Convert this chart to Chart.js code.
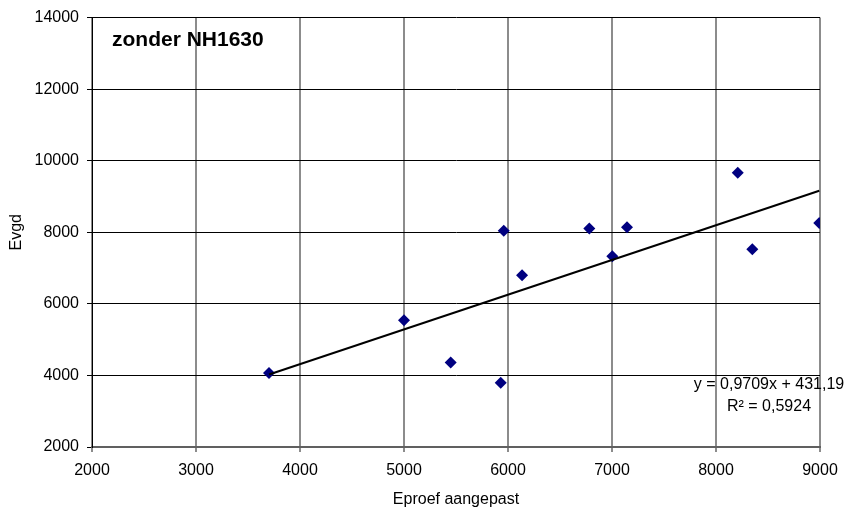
<!DOCTYPE html>
<html>
<head>
<meta charset="utf-8">
<script src="https://cdn.jsdelivr.net/npm/chart.js@4/dist/chart.umd.min.js"></script>
<style>
  html, body { margin: 0; padding: 0; background: #fff; }
  #wrap { width: 848px; height: 509px; }
</style>
</head>
<body>
<div id="wrap"><canvas id="c" width="848" height="509"></canvas></div>
<script>
// Measured values: Eproef aangepast (x) against Evgd (y)
const eproef = [3702, 5000, 5449, 5930, 5959, 6135, 6782, 7003, 7144, 8209, 8349, 8993];
const evgd   = [4065, 5544, 4364, 3795, 8042, 6800, 8103, 7330, 8140, 9666, 7526, 8260];

// Linear trendline coefficients and fit quality
const slope = 0.9709;
const intercept = 431.19;
const rSquared = 0.5924;

// Axis ranges and tick steps
const xTicks = [2000, 3000, 4000, 5000, 6000, 7000, 8000, 9000];
const yTicks = [2000, 4000, 6000, 8000, 10000, 12000, 14000];

const chartTitle = 'zonder NH1630';
const xTitle = 'Eproef aangepast';
const yTitle = 'Evgd';

const FONT = "'Liberation Sans', Arial, sans-serif";

const points = eproef.map((x, i) => ({ x: x, y: evgd[i] }));
const xMin = Math.min(...eproef), xMax = Math.max(...eproef);
const trend = [
  { x: xMin, y: slope * xMin + intercept },
  { x: xMax, y: slope * xMax + intercept }
];

const fmt = (v, d) => v.toFixed(d).replace('.', ',');

// Chart heading inside the plot and the trendline equation box
const annotations = {
  id: 'annotations',
  afterDraw(chart) {
    const ctx = chart.ctx;
    const a = chart.chartArea;
    ctx.save();
    ctx.fillStyle = '#000';
    ctx.font = 'bold 21px ' + FONT;
    ctx.textAlign = 'left';
    ctx.textBaseline = 'alphabetic';
    ctx.fillText(chartTitle, a.left + 20, a.top + 28);

    ctx.font = '16px ' + FONT;
    ctx.textAlign = 'center';
    ctx.textBaseline = 'middle';
    const cx = a.right - 51;
    ctx.fillText('y = ' + fmt(slope, 4) + 'x + ' + fmt(intercept, 2), cx, a.bottom - 62);
    ctx.fillText('R\u00B2 = ' + fmt(rSquared, 4), cx, a.bottom - 40);
    ctx.restore();
  }
};

new Chart(document.getElementById('c'), {
  type: 'scatter',
  data: {
    datasets: [
      {
        label: 'trend',
        type: 'line',
        data: trend,
        borderColor: '#000',
        borderWidth: 2,
        pointRadius: 0,
        fill: false,
        order: 0
      },
      {
        label: yTitle,
        data: points,
        pointStyle: 'rectRot',
        pointRadius: 6,
        pointHoverRadius: 6,
        backgroundColor: '#000080',
        borderColor: '#000080',
        borderWidth: 0,
        order: 1
      }
    ]
  },
  options: {
    responsive: false,
    animation: false,
    devicePixelRatio: 1,
    layout: { padding: { top: 17, right: 28, left: 0, bottom: 0 } },
    plugins: {
      legend: { display: false },
      tooltip: { enabled: false }
    },
    scales: {
      x: {
        type: 'linear',
        min: xTicks[0],
        max: xTicks[xTicks.length - 1],
        afterBuildTicks(s) { s.ticks = xTicks.map(v => ({ value: v })); },
        afterFit(s) { s.height = 62; },
        border: { display: true, color: '#606060', width: 2 },
        grid: { color: '#8c8c8c', lineWidth: 2, tickLength: 5, drawOnChartArea: true },
        ticks: {
          color: '#000',
          font: { family: FONT, size: 16 },
          padding: 9,
          maxRotation: 0,
          callback: v => String(v)
        },
        title: {
          display: true,
          text: xTitle,
          color: '#000',
          font: { family: FONT, size: 16 },
          padding: { top: 0, bottom: 0 }
        }
      },
      y: {
        type: 'linear',
        min: yTicks[0],
        max: yTicks[yTicks.length - 1],
        afterBuildTicks(s) { s.ticks = yTicks.map(v => ({ value: v })); },
        afterFit(s) { s.width = 92; },
        border: { display: true, color: '#000', width: 1 },
        grid: { color: '#000', lineWidth: 1, tickLength: 5 },
        ticks: {
          color: '#000',
          font: { family: FONT, size: 16 },
          padding: 8,
          callback: v => String(v)
        },
        title: {
          display: true,
          text: yTitle,
          color: '#000',
          font: { family: FONT, size: 16 },
          padding: { top: 7, bottom: 0 }
        }
      }
    }
  },
  plugins: [annotations]
});
</script>
</body>
</html>
